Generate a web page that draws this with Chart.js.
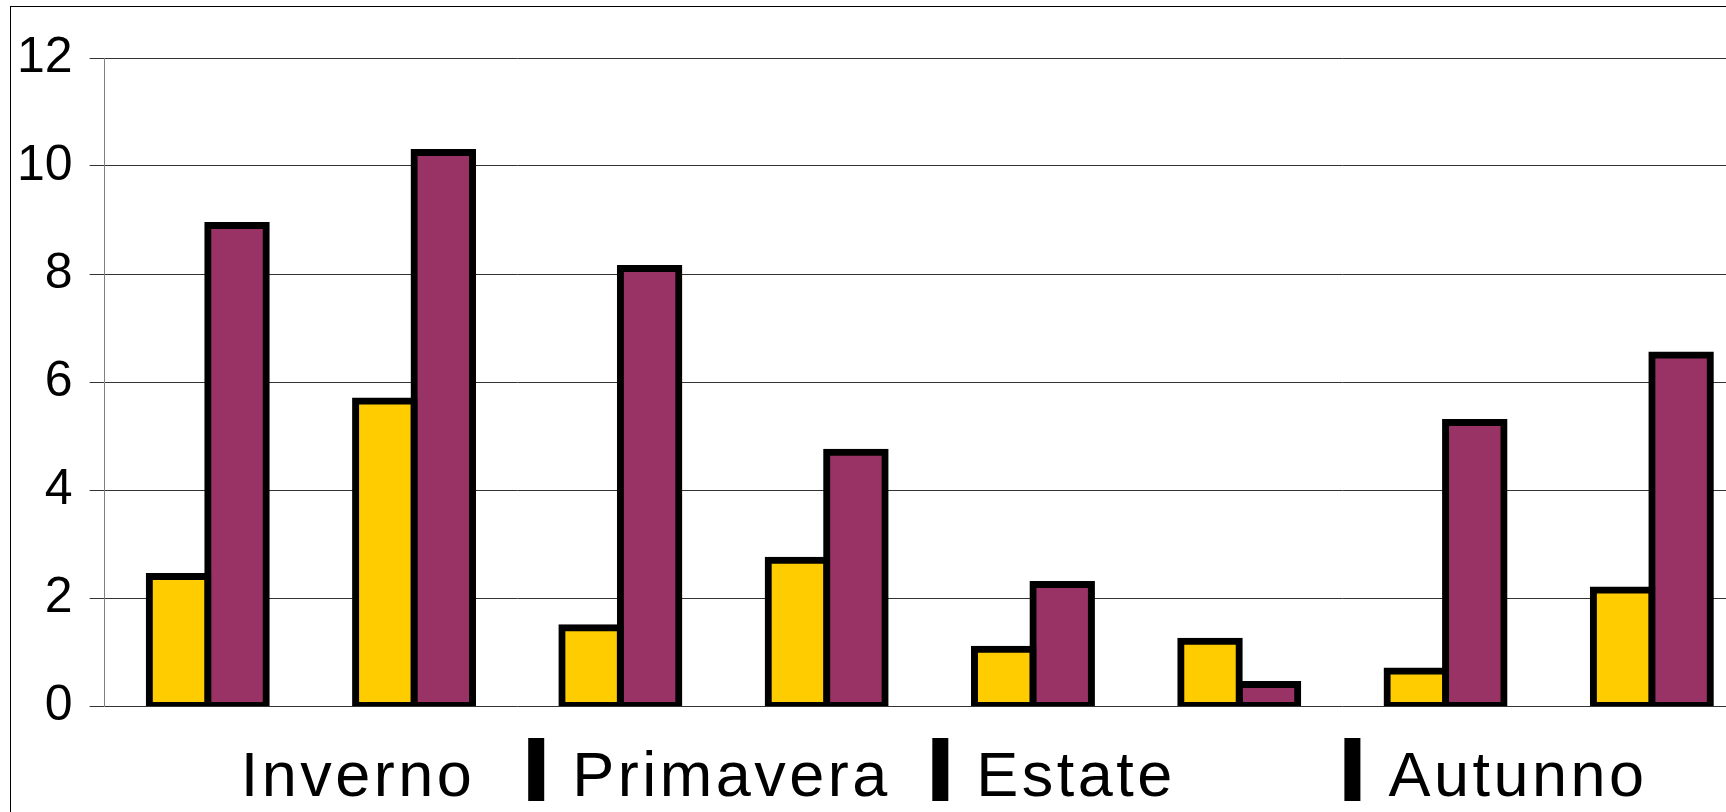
<!DOCTYPE html>
<html>
<head>
<meta charset="utf-8">
<title>Stagioni</title>
<script src="https://cdn.jsdelivr.net/npm/chart.js@4"></script>
<style>
  html, body { margin: 0; padding: 0; background: #fff; overflow: hidden; }
  #frame { position: absolute; left: 10px; top: 6px; width: 2000px; height: 2000px; border: 1px solid #000; }
  #wrap { position: absolute; left: 0; top: 0; width: 1760px; height: 812px; }
</style>
</head>
<body>
<div id="frame"></div>
<div id="wrap"><canvas id="myChart"></canvas></div>
<script>
const categories = ['1', '2', '3', '4', '5', '6', '7', '8']
const seasons = ['Inverno', 'Primavera', 'Estate', 'Autunno']
const serieA = [2.4, 5.65, 1.45, 2.7, 1.05, 1.2, 0.65, 2.15]
const serieB = [8.9, 10.25, 8.1, 4.7, 2.25, 0.4, 5.25, 6.5]
const yTicks = [0, 2, 4, 6, 8, 10, 12]

const FONT = "'Liberation Sans', Arial, sans-serif"

// small nudges for the divider bars, in px from the start of each pair
const sepNudge = [0, 11, 2.5, 2]

// season names under each pair of groups, with the black divider bars
const seasonLabels = {
  id: 'seasonLabels',
  afterDraw(chart) {
    const x = chart.scales.x
    const ctx = chart.ctx
    const catW = x.getPixelForValue(1) - x.getPixelForValue(0)
    ctx.save()
    ctx.fillStyle = '#000'
    ctx.font = '63px ' + FONT
    ctx.textAlign = 'left'
    ctx.textBaseline = 'alphabetic'
    if ('letterSpacing' in ctx) ctx.letterSpacing = '3.5px'
    seasons.forEach((name, i) => {
      const start = x.getPixelForValue(i * 2) - catW / 2
      let textX
      if (i === 0) {
        textX = x.getPixelForValue(0) + 33
      } else {
        const sepX = start + sepNudge[i]
        ctx.fillRect(sepX, 738, 16, 63)
        textX = sepX + 16 + 28
      }
      ctx.fillText(name, textX, 796)
    })
    ctx.restore()
  }
}

const ctx = document.getElementById('myChart')

new Chart(ctx, {
  type: 'bar',
  data: {
    labels: categories,
    datasets: [{
      data: serieA,
      backgroundColor: '#FFCC00',
      borderColor: '#000',
      borderWidth: 7,
      borderSkipped: false,
      inflateAmount: 3.5
    }, {
      data: serieB,
      backgroundColor: '#993366',
      borderColor: '#000',
      borderWidth: 7,
      borderSkipped: false,
      inflateAmount: 3.5
    }]
  },
  options: {
    responsive: true,
    maintainAspectRatio: false,
    animation: false,
    layout: {
      padding: { left: 0, right: 5, top: 58, bottom: 106 }
    },
    datasets: {
      bar: { categoryPercentage: 0.567, barPercentage: 1 }
    },
    plugins: {
      legend: { display: false },
      tooltip: { enabled: false }
    },
    scales: {
      x: { display: false },
      y: {
        min: 0,
        max: 12,
        afterBuildTicks: axis => { axis.ticks = yTicks.map(v => ({ value: v })) },
        ticks: {
          color: '#000',
          padding: 17,
          font: { family: FONT, size: 50 }
        },
        grid: {
          color: '#333',
          lineWidth: 1,
          tickLength: 15,
          tickColor: '#333'
        },
        border: { color: '#808080', width: 1 }
      }
    }
  },
  plugins: [seasonLabels]
})
</script>
</body>
</html>
